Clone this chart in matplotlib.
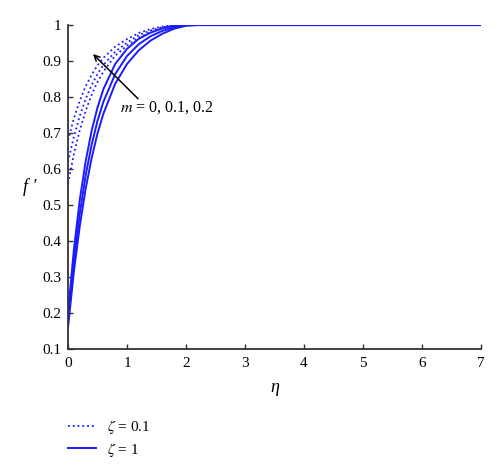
import numpy as np
import matplotlib.pyplot as plt

plt.rcParams['font.family'] = ['Liberation Serif', 'DejaVu Serif']
plt.rcParams['mathtext.fontset'] = 'stix'

# eta grid
eta = [0, 0.1, 0.2, 0.3, 0.4, 0.5, 0.6, 0.8, 1.0, 1.2, 1.4, 1.6, 1.8, 2.0, 2.2, 7]

# zeta = 0.1 (dotted), m = 0, 0.1, 0.2
f_z01_m0 = [0.56, 0.642, 0.708, 0.762, 0.806, 0.842, 0.871, 0.915, 0.943, 0.965, 0.980, 0.991, 0.998, 1.0, 1.0, 1.0]
f_z01_m1 = [0.62, 0.690, 0.748, 0.795, 0.833, 0.864, 0.889, 0.926, 0.951, 0.972, 0.985, 0.994, 0.999, 1.0, 1.0, 1.0]
f_z01_m2 = [0.68, 0.741, 0.790, 0.830, 0.862, 0.888, 0.909, 0.940, 0.961, 0.978, 0.989, 0.996, 1.0, 1.0, 1.0, 1.0]

# zeta = 1 (solid), m = 0, 0.1, 0.2
f_z1_m0 = [0.16, 0.316, 0.442, 0.546, 0.630, 0.699, 0.754, 0.837, 0.892, 0.930, 0.957, 0.976, 0.990, 0.998, 1.0, 1.0]
f_z1_m1 = [0.18, 0.345, 0.477, 0.583, 0.667, 0.734, 0.787, 0.864, 0.914, 0.947, 0.969, 0.984, 0.994, 1.0, 1.0, 1.0]
f_z1_m2 = [0.20, 0.377, 0.515, 0.622, 0.706, 0.771, 0.822, 0.892, 0.934, 0.962, 0.979, 0.991, 0.998, 1.0, 1.0, 1.0]

fig = plt.figure(figsize=(5, 4.73), dpi=100)
ax = fig.add_axes([0.136, 0.262, 0.826, 0.685])

col = '#1a1aff'
for f in (f_z01_m0, f_z01_m1, f_z01_m2):
    ax.plot(eta, f, ':', color=col, lw=1.3)
for f in (f_z1_m0, f_z1_m1, f_z1_m2):
    ax.plot(eta, f, '-', color=col, lw=1.4)

ax.set_xlim(0, 7)
ax.set_ylim(0.1, 1)
ax.set_xticks(range(8))
ax.set_yticks([0.1, 0.2, 0.3, 0.4, 0.5, 0.6, 0.7, 0.8, 0.9, 1])
ax.set_yticklabels(['0.1', '0.2', '0.3', '0.4', '0.5', '0.6', '0.7', '0.8', '0.9', '1'])
for s in ('top', 'right'):
    ax.spines[s].set_visible(False)
for s in ('left', 'bottom'):
    ax.spines[s].set_color('#333333')
    ax.spines[s].set_linewidth(1.3)
ax.tick_params(direction='in', length=3.5, width=1, colors='#333333', labelsize=11,
               labelcolor='black')
ax.tick_params(axis='y', pad=5)
ax.tick_params(axis='x', pad=6)

ax.set_xlabel('η', fontsize=13, style='italic', labelpad=6)
ax.set_ylabel('f ′', fontsize=13, style='italic', rotation=0, labelpad=9, va='center')

ax.annotate('', xy=(0.39, 0.925), xytext=(1.22, 0.79),
            arrowprops=dict(arrowstyle='->', color='black', lw=1.1))
ax.text(0.88, 0.77, r'$m$ = 0, 0.1, 0.2', fontsize=11.5, va='center')

h1, = ax.plot([], [], ':', color=col, lw=1.3, label=r'$\zeta$ = 0.1')
h2, = ax.plot([], [], '-', color=col, lw=1.4, label=r'$\zeta$ = 1')
fig.legend(handles=[h1, h2], loc='lower left', bbox_to_anchor=(0.136, 0.03),
           frameon=False, fontsize=11, handlelength=1.83, handletextpad=0.72,
           labelspacing=0.3, borderpad=0, borderaxespad=0)

fig.savefig('out.png', dpi=100)
